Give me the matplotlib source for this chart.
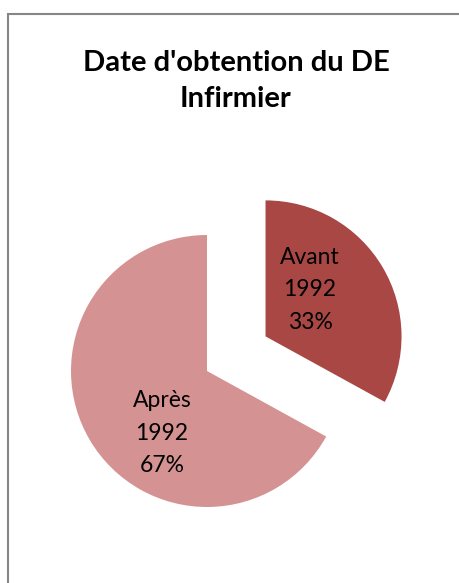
import matplotlib
matplotlib.use("Agg")
import matplotlib.pyplot as plt
from matplotlib.patches import Rectangle

categories = ["Avant\n1992", "Après\n1992"]
values = [33, 67]
colors = ["#A94745", "#D49392"]
title = "Date d'obtention du DE\nInfirmier"

W, H, DPI = 460, 583, 100
fig = plt.figure(figsize=(W / DPI, H / DPI), dpi=DPI)
fig.patch.set_facecolor("white")

# chart border (only top/left visible in reference)
fig.add_artist(Rectangle((8 / W, 0 - 0.05), 1.2, (H - 14) / H + 0.05,
                         transform=fig.transFigure, fill=False,
                         edgecolor="#868686", linewidth=1.5))

ax = fig.add_axes([0, 0, 1, 1])
R = 136.0
cx, cy = 207.0, 371.0
wedges, _ = ax.pie(values, colors=colors, startangle=90, counterclock=False,
                   explode=[0.5, 0], radius=1,
                   wedgeprops=dict(linewidth=0))
ax.set_xlim(-cx / R, (W - cx) / R)
ax.set_ylim((cy - H) / R, cy / R)
ax.set_aspect("auto")
ax.axis("off")

pcts = [f"{v / sum(values) * 100:.0f}%" for v in values]
label_pos = [((310 - cx) / R, (cy - 290) / R), ((162 - cx) / R, (cy - 433) / R)]
for (x, y), c, p in zip(label_pos, categories, pcts):
    ax.text(x, y, f"{c}\n{p}", ha="center", va="center", fontsize=16.5,
            family="Lato", linespacing=1.68, color="black")

fig.text(236 / W, 1 - 81 / H, title, ha="center", va="center",
         fontsize=21, fontweight="bold", family="Lato", linespacing=1.5)

fig.savefig("out.png", dpi=DPI)
